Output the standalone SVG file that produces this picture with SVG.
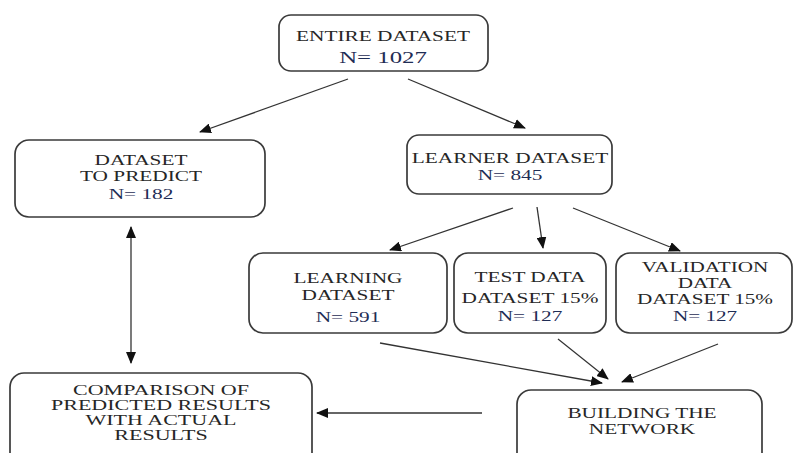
<svg xmlns="http://www.w3.org/2000/svg" width="798" height="453" viewBox="0 0 798 453">
<defs>
<style>
.box{fill:#fff;stroke:#3a3a3a;stroke-width:1.7}
.t{font-family:"Liberation Serif","Times New Roman",serif;font-size:15px;fill:#262626;text-anchor:middle}
.s{font-size:14.5px}
.n{fill:#1f2d55}
.c{stroke:#333;stroke-width:1.3;fill:none;marker-end:url(#ah)}
</style>
<marker id="ah" viewBox="0 0 12 10" refX="11" refY="5" markerWidth="12" markerHeight="10" markerUnits="userSpaceOnUse" orient="auto-start-reverse">
<path d="M0,0 L12,5 L0,10 z" fill="#111"/>
</marker>
</defs>
<rect width="798" height="453" fill="#fff"/>
<g id="connectors">
<line class="c" x1="348" y1="79" x2="200" y2="132"/>
<line class="c" x1="408" y1="79" x2="525" y2="128"/>
<line class="c" x1="513" y1="208" x2="390" y2="250"/>
<line class="c" x1="537" y1="207" x2="543" y2="248"/>
<line class="c" x1="573" y1="208" x2="680" y2="251"/>
<line class="c" x1="131" y1="227" x2="131" y2="363" style="marker-start:url(#ah)"/>
<line class="c" x1="380" y1="343" x2="602" y2="383"/>
<line class="c" x1="558" y1="339" x2="608" y2="379"/>
<line class="c" x1="718" y1="344" x2="622" y2="382"/>
<line class="c" x1="482" y1="413" x2="317" y2="413"/>
</g>
<g id="entire">
<rect class="box" x="279" y="15" width="209" height="56" rx="12"/>
<text class="t" transform="translate(383 41) scale(1.42 1)">ENTIRE DATASET</text>
<text class="t n" style="font-size:16px" transform="translate(383 63) scale(1.55 1)">N= 1027</text>
</g>
<g id="predict">
<rect class="box" x="15" y="140" width="250" height="77" rx="14"/>
<text class="t" transform="translate(141 165) scale(1.42 1)">DATASET</text>
<text class="t" transform="translate(141 181) scale(1.42 1)">TO PREDICT</text>
<text class="t n" transform="translate(141 199) scale(1.42 1)">N= 182</text>
</g>
<g id="learner">
<rect class="box" x="407" y="135" width="205" height="59" rx="12"/>
<text class="t" transform="translate(510 163) scale(1.42 1)">LEARNER DATASET</text>
<text class="t n" transform="translate(510 180) scale(1.42 1)">N= 845</text>
</g>
<g id="learning">
<rect class="box" x="249" y="253" width="198" height="80" rx="14"/>
<text class="t" transform="translate(348 283) scale(1.42 1)">LEARNING</text>
<text class="t" transform="translate(348 300) scale(1.42 1)">DATASET</text>
<text class="t n" transform="translate(348 322) scale(1.42 1)">N= 591</text>
</g>
<g id="test">
<rect class="box" x="454" y="253" width="152" height="80" rx="14"/>
<text class="t" transform="translate(530 282) scale(1.42 1)">TEST DATA</text>
<text class="t" transform="translate(530 303) scale(1.42 1)">DATASET 15%</text>
<text class="t n" transform="translate(530 321) scale(1.42 1)">N= 127</text>
</g>
<g id="validation">
<rect class="box" x="616" y="253" width="176" height="80" rx="14"/>
<text class="t s" transform="translate(705 272) scale(1.46 1)">VALIDATION</text>
<text class="t s" transform="translate(705 288) scale(1.46 1)">DATA</text>
<text class="t s" transform="translate(705 304) scale(1.46 1)">DATASET 15%</text>
<text class="t n s" transform="translate(705 321) scale(1.46 1)">N= 127</text>
</g>
<g id="comparison">
<rect class="box" x="10" y="373" width="302" height="95" rx="14"/>
<text class="t s" transform="translate(161 395) scale(1.52 1)">COMPARISON OF</text>
<text class="t s" transform="translate(161 410) scale(1.52 1)">PREDICTED RESULTS</text>
<text class="t s" transform="translate(161 425) scale(1.52 1)">WITH ACTUAL</text>
<text class="t s" transform="translate(161 440) scale(1.52 1)">RESULTS</text>
</g>
<g id="building">
<rect class="box" x="517" y="390" width="245" height="80" rx="14"/>
<text class="t" transform="translate(642 418) scale(1.42 1)">BUILDING THE</text>
<text class="t" transform="translate(642 434) scale(1.42 1)">NETWORK</text>
</g>
</svg>
